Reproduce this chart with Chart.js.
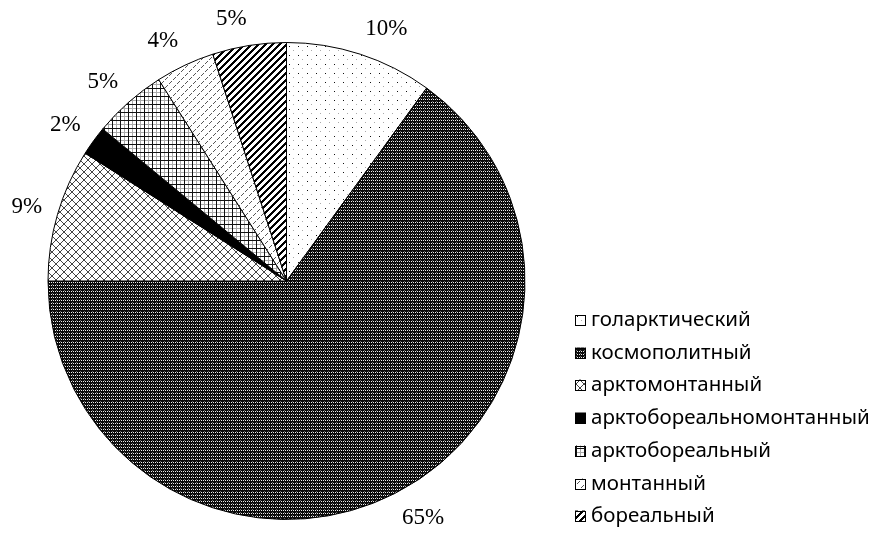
<!DOCTYPE html>
<html>
<head>
<meta charset="utf-8">
<script src="https://cdn.jsdelivr.net/npm/chart.js@4/dist/chart.umd.min.js"></script>
<style>
  body { margin: 0; background: #fff; }
  canvas { display: block; }
</style>
</head>
<body>
<canvas id="pie" width="875" height="535"></canvas>
<script>
// ареалы и доли видов, %
const areaNames = [
  "голарктический",
  "космополитный",
  "арктомонтанный",
  "арктобореальномонтанный",
  "арктобореальный",
  "монтанный",
  "бореальный",
];
const shares = [10, 65, 9, 2, 5, 4, 5];

// small tiles for the hatch fills
function tile(w, h, draw) {
  const c = document.createElement("canvas");
  c.width = w;
  c.height = h;
  const g = c.getContext("2d");
  g.fillStyle = "#fff";
  g.fillRect(0, 0, w, h);
  draw(g);
  return c;
}

const ctx = document.getElementById("pie").getContext("2d");

const tiles = [
  // dotted
  tile(9, 9, (g) => {
    g.fillStyle = "#111";
    g.fillRect(1, 1, 1, 1);
    g.fillStyle = "#aaa";
    g.fillRect(5, 5, 1, 1);
  }),
  // dense dark weave
  tile(4, 3, (g) => {
    g.fillStyle = "#0a0a0a";
    g.fillRect(0, 0, 4, 3);
    g.fillStyle = "#eee";
    g.fillRect(1, 0, 1, 1);
    g.fillRect(3, 0, 1, 1);
    g.fillStyle = "#666";
    g.fillRect(0, 2, 1, 1);
  }),
  // diagonal crosshatch
  tile(8, 8, (g) => {
    g.fillStyle = "#444";
    for (let i = 0; i < 8; i++) {
      g.fillRect(i, i, 1, 1);
      g.fillRect(7 - i, i, 1, 1);
    }
  }),
  // solid
  tile(2, 2, (g) => {
    g.fillStyle = "#000";
    g.fillRect(0, 0, 2, 2);
  }),
  // square grid
  tile(8, 8, (g) => {
    g.fillStyle = "#aaa";
    g.fillRect(4, 0, 1, 8);
    g.fillRect(0, 4, 8, 1);
    g.fillStyle = "#111";
    g.fillRect(0, 0, 1, 8);
    g.fillRect(0, 0, 8, 1);
  }),
  // short dashes
  tile(8, 8, (g) => {
    g.fillStyle = "#555";
    [[1, 3], [2, 2], [3, 1], [5, 7], [6, 6], [7, 5]].forEach(([x, y]) => g.fillRect(x, y, 1, 1));
  }),
  // wide upward diagonal
  tile(7, 7, (g) => {
    g.fillStyle = "#000";
    for (let y = 0; y < 7; y++)
      for (let x = 0; x < 7; x++)
        if ((x + y) % 7 < 3) g.fillRect(x, y, 1, 1);
  }),
];
const fills = tiles.map((t) => ctx.createPattern(t, "repeat"));

// percent labels outside the slices
const percentLabels = {
  id: "percentLabels",
  afterDatasetsDraw(chart) {
    const c = chart.ctx;
    const meta = chart.getDatasetMeta(0);
    c.save();
    c.font = "23px 'Liberation Serif', serif";
    c.fillStyle = "#000";
    c.textAlign = "center";
    c.textBaseline = "middle";
    meta.data.forEach((arc, i) => {
      const { x, y, startAngle, endAngle, outerRadius } = arc.getProps(
        ["x", "y", "startAngle", "endAngle", "outerRadius"], true);
      const mid = (startAngle + endAngle) / 2;
      const dx = Math.cos(mid), dy = Math.sin(mid);
      const px = x + dx * (outerRadius + 16);
      const py = y + dy * (outerRadius + 16);
      const txt = shares[i] + "%";
      const w = c.measureText(txt).width;
      const h = 22;
      c.fillText(txt, px + Math.sign(dx) * w / 2, py + dy * h / 2);
    });
    c.restore();
  },
};

// legend column on the right
const sideLegend = {
  id: "sideLegend",
  afterDraw(chart) {
    const c = chart.ctx;
    const x0 = 575, y0 = 320, step = 32.7, box = 11;
    c.save();
    c.font = "20.5px 'Noto Sans', sans-serif";
    c.textBaseline = "middle";
    areaNames.forEach((name, i) => {
      const y = Math.round(y0 + i * step);
      c.fillStyle = fills[i];
      c.fillRect(x0, y - box / 2, box, box);
      c.strokeStyle = "#000";
      c.lineWidth = 1;
      c.strokeRect(x0 + 0.5, Math.round(y - box / 2) + 0.5, box - 1, box - 1);
      c.fillStyle = "#000";
      c.fillText(name, x0 + 16, y);
    });
    c.restore();
  },
};

new Chart(ctx, {
  type: "pie",
  data: {
    labels: areaNames,
    datasets: [
      {
        data: shares,
        backgroundColor: fills,
        borderColor: "#000",
        borderWidth: 1,
      },
    ],
  },
  options: {
    responsive: false,
    animation: false,
    layout: {
      padding: { left: 47, right: 349, top: 42, bottom: 15 },
    },
    plugins: {
      legend: { display: false },
      tooltip: { enabled: false },
    },
  },
  plugins: [percentLabels, sideLegend],
});
</script>
</body>
</html>
